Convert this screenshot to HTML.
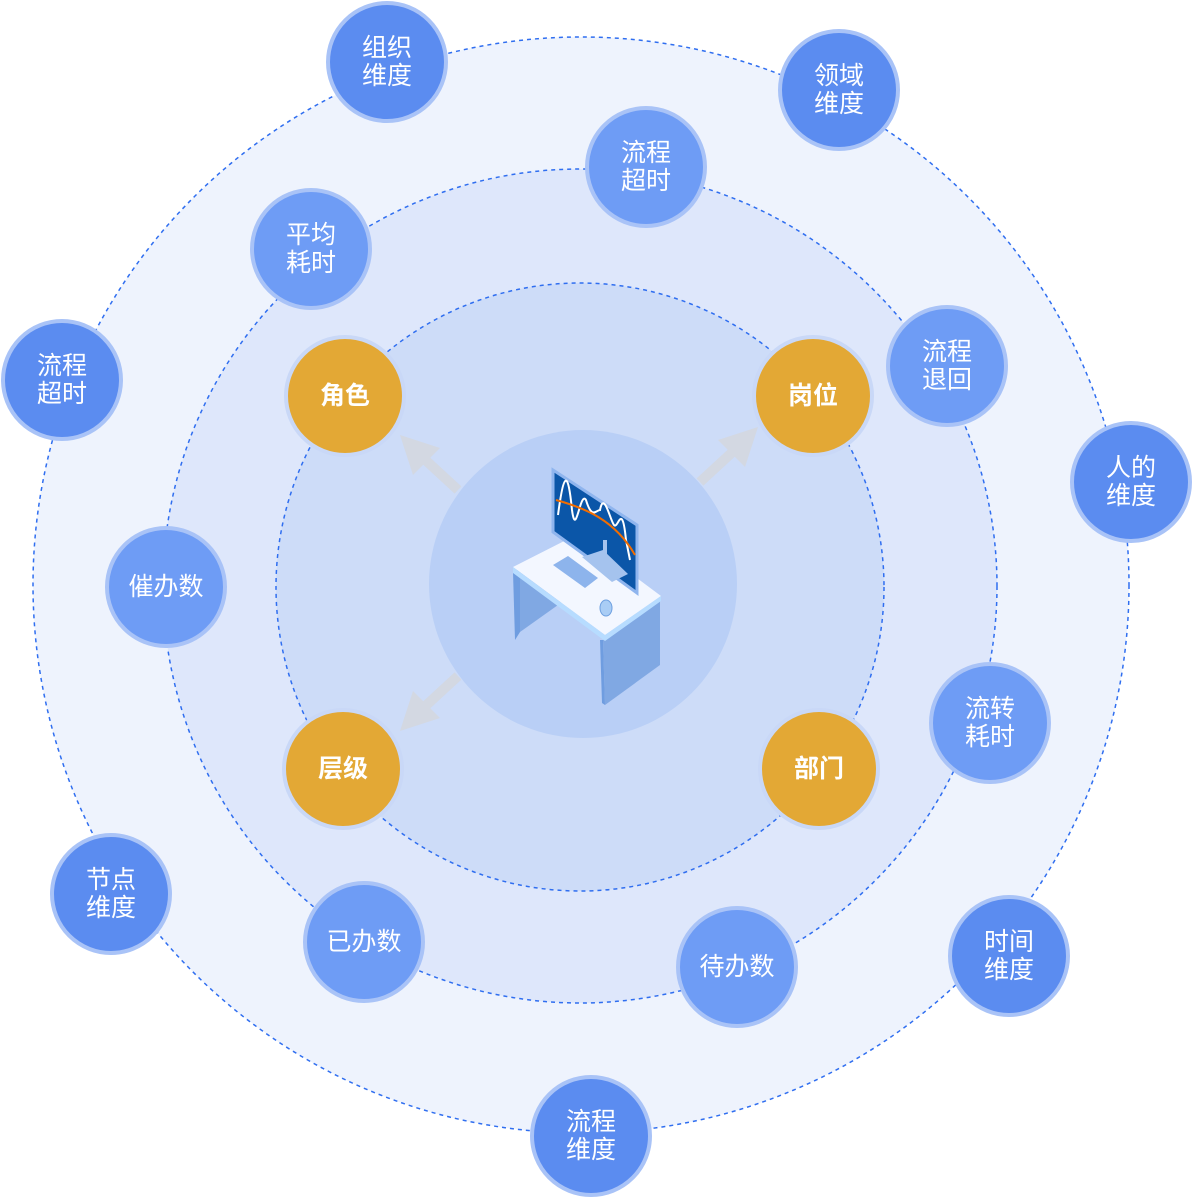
<!DOCTYPE html>
<html><head><meta charset="utf-8"><style>
html,body{margin:0;padding:0;background:#fff;}
body{width:1194px;height:1200px;position:relative;overflow:hidden;font-family:"Liberation Sans","Noto Sans CJK SC",sans-serif;}
svg{position:absolute;left:0;top:0}
.n{position:absolute;width:114px;height:114px;border-radius:50%;border:4px solid #a9c3f7;color:#fff;font-size:25px;line-height:28px;display:flex;align-items:center;justify-content:center;text-align:center;box-sizing:content-box}
.a{background:#5b8cf0}
.b{background:#6e9cf5}
.o{background:#e3a835;border-color:#c9d8f7;font-weight:bold;font-size:25px}
</style></head><body>
<svg width="1194" height="1200">
<circle cx="581" cy="585" r="548" fill="#eef3fd" stroke="#2f6ef0" stroke-width="1.5" stroke-dasharray="4 4"/>
<circle cx="580" cy="586" r="417" fill="#dee7fb" stroke="#2f6ef0" stroke-width="1.5" stroke-dasharray="4 4"/>
<circle cx="580" cy="587" r="304" fill="#cddcf8" stroke="#2f6ef0" stroke-width="1.5" stroke-dasharray="4 4"/>
<circle cx="583" cy="584" r="154" fill="#b9cff6"/>
<g stroke="#d3d8e2" stroke-width="10" fill="#d3d8e2">
<line x1="458" y1="490" x2="420" y2="455"/><polygon points="400,435 440,448 413,475" stroke="none"/>
<line x1="700" y1="482" x2="738" y2="447"/><polygon points="758,427 745,467 718,440" stroke="none"/>
<line x1="458" y1="676" x2="420" y2="711"/><polygon points="400,731 413,691 440,718" stroke="none"/>
</g>
<polygon points="513,572 520,568 520,632 515,640" fill="#6f9de0"/>
<polygon points="520,568 565,590 565,600 520,632" fill="#80a8e3"/>
<polygon points="603,640 660,600 660,665 605,705" fill="#80a8e3"/>
<polygon points="603,640 605,705 602,703 600,640" fill="#6f9de0"/>
<polygon points="513,567 578,534 661,596 605,635" fill="#f3f7ff"/>
<polygon points="513,567 605,635 661,596 661,601 605,641 513,573" fill="#b7dcff"/>
<polygon points="553,470 637,525 637,593 553,532" fill="#0b56a8" stroke="#8fb5ee" stroke-width="3"/>
<path d="M558,515 C564,470 568,470 572,510 C576,540 580,490 586,500 C592,520 596,510 600,510 C604,490 610,520 614,525 C618,530 622,500 626,540 L630,560" stroke="#fff" stroke-width="2" fill="none"/>
<path d="M556,500 C585,508 615,520 635,555" stroke="#f26d00" stroke-width="2" fill="none"/>
<polygon points="582,557 603,550 628,574 612,582" fill="#a5c3ee"/>
<rect x="603" y="540" width="4" height="20" fill="#a5c3ee"/>
<polygon points="553,565 568,556 598,578 585,588" fill="#8db4ec"/>
<ellipse cx="606" cy="608" rx="6" ry="8" fill="#a9cdf5" stroke="#6ea0e0"/>
</svg>
<div class="n a" style="left:326px;top:1px">组织<br>维度</div>
<div class="n a" style="left:778px;top:29px">领域<br>维度</div>
<div class="n b" style="left:585px;top:106px">流程<br>超时</div>
<div class="n b" style="left:250px;top:188px">平均<br>耗时</div>
<div class="n a" style="left:1px;top:319px">流程<br>超时</div>
<div class="n b" style="left:886px;top:305px">流程<br>退回</div>
<div class="n a" style="left:1070px;top:421px">人的<br>维度</div>
<div class="n o" style="left:284px;top:335px">角色</div>
<div class="n o" style="left:752px;top:335px">岗位</div>
<div class="n b" style="left:105px;top:526px">催办数</div>
<div class="n o" style="left:282px;top:708px">层级</div>
<div class="n o" style="left:758px;top:708px">部门</div>
<div class="n b" style="left:929px;top:662px">流转<br>耗时</div>
<div class="n a" style="left:50px;top:833px">节点<br>维度</div>
<div class="n b" style="left:303px;top:881px">已办数</div>
<div class="n b" style="left:676px;top:906px">待办数</div>
<div class="n a" style="left:948px;top:895px">时间<br>维度</div>
<div class="n a" style="left:530px;top:1075px">流程<br>维度</div>
</body></html>
